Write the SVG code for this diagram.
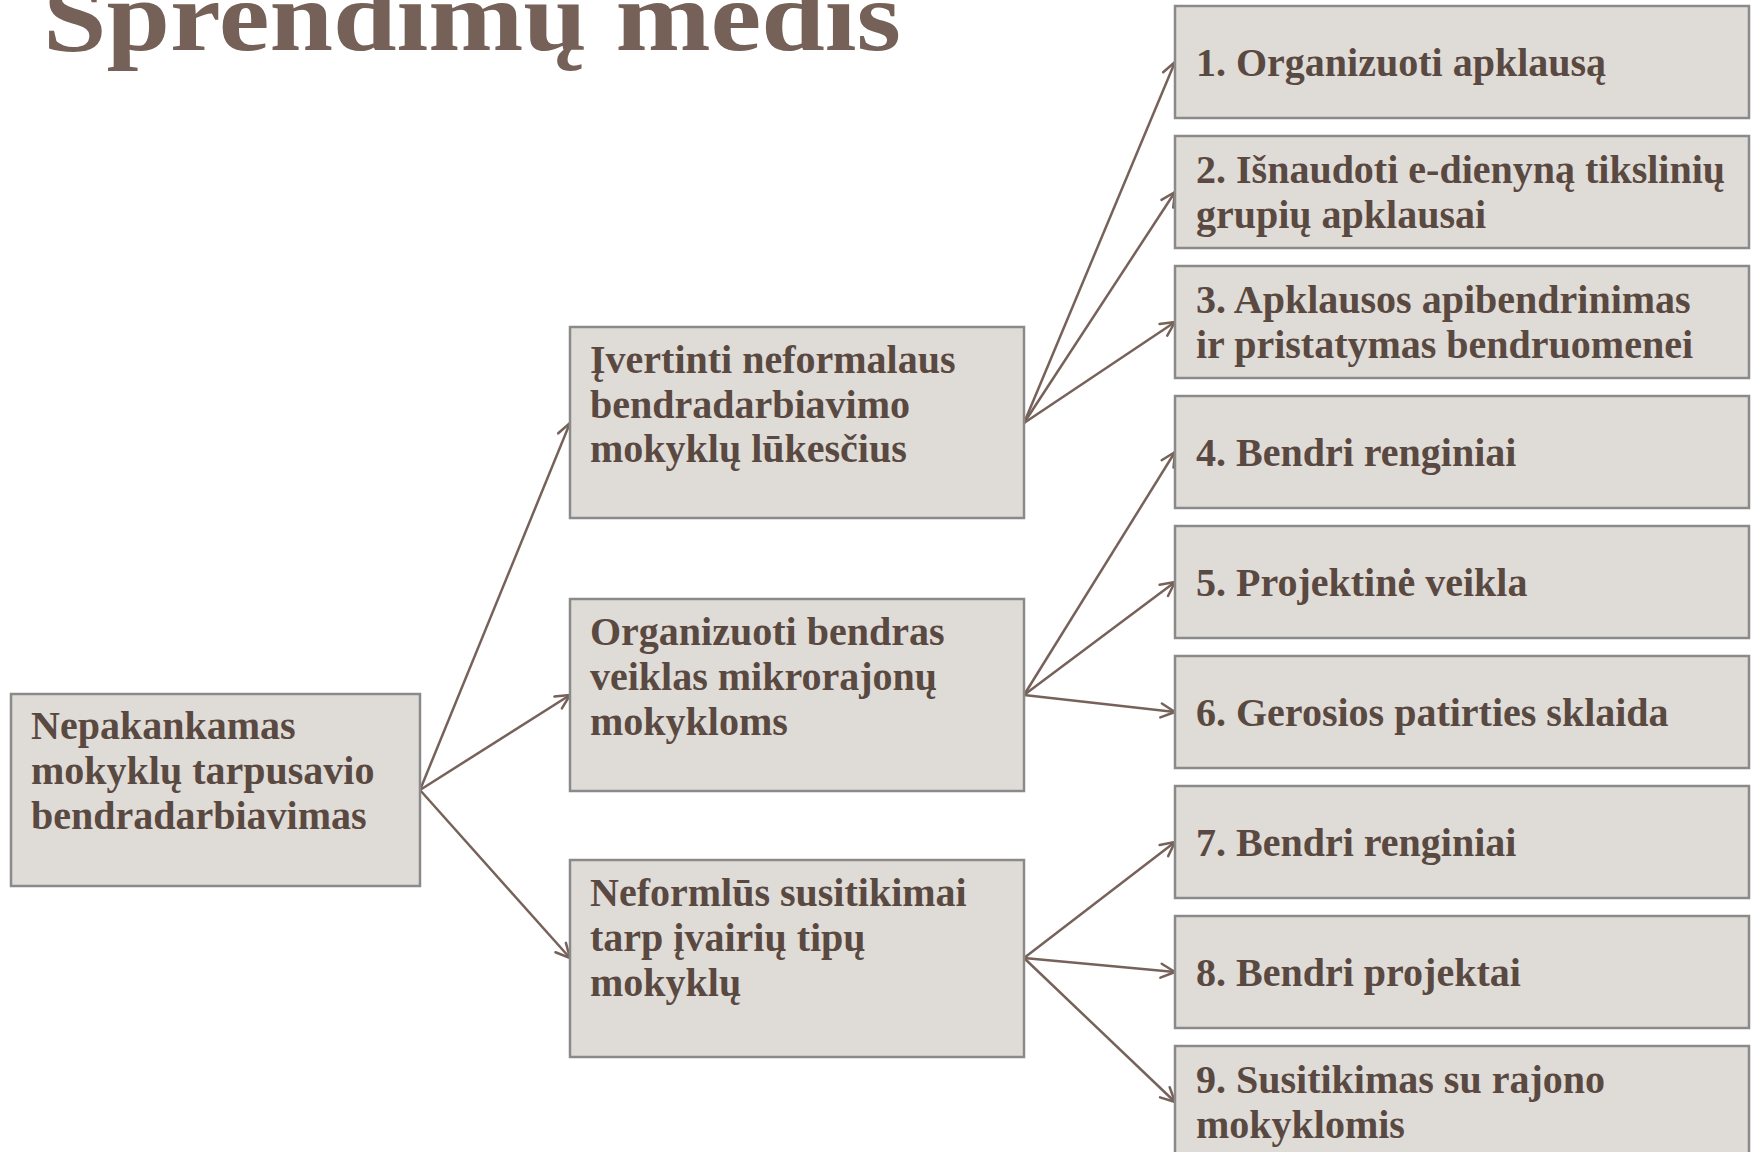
<svg xmlns="http://www.w3.org/2000/svg" width="1756" height="1152" viewBox="0 0 1756 1152">
<defs>
<style>
.box{fill:#dfdbd7;stroke:#8a8a8a;stroke-width:2.5}
.t{font-family:"Liberation Serif","DejaVu Serif",serif;font-weight:bold;font-size:40px;fill:#594941}
.title{font-family:"Liberation Serif","DejaVu Serif",serif;font-weight:bold;font-size:100px;fill:#756157}
.c{stroke:#76625a;stroke-width:2.5;fill:none;marker-end:url(#ah)}
</style>
<marker id="ah" markerUnits="userSpaceOnUse" markerWidth="20" markerHeight="20" viewBox="0 0 20 20" refX="18" refY="10" orient="auto">
<path d="M4,3 L18,10 L4,17" fill="none" stroke="#76625a" stroke-width="2.5" stroke-linecap="round" stroke-linejoin="round"/>
</marker>
</defs>
<rect width="1756" height="1152" fill="#ffffff"/>
<text class="title" x="43" y="50" textLength="858" lengthAdjust="spacingAndGlyphs">Sprendimų medis</text>
<g id="connectors">
<line class="c" x1="420" y1="790" x2="570" y2="423"/>
<line class="c" x1="420" y1="790" x2="570" y2="695"/>
<line class="c" x1="420" y1="790" x2="570" y2="958"/>
<line class="c" x1="1024" y1="423" x2="1175" y2="62"/>
<line class="c" x1="1024" y1="423" x2="1175" y2="192"/>
<line class="c" x1="1024" y1="423" x2="1175" y2="322"/>
<line class="c" x1="1024" y1="695" x2="1175" y2="452"/>
<line class="c" x1="1024" y1="695" x2="1175" y2="582"/>
<line class="c" x1="1024" y1="695" x2="1175" y2="712"/>
<line class="c" x1="1024" y1="958" x2="1175" y2="842"/>
<line class="c" x1="1024" y1="958" x2="1175" y2="972"/>
<line class="c" x1="1024" y1="958" x2="1175" y2="1102"/>
</g>
<g id="root">
<rect class="box" x="11" y="694" width="409" height="192"/>
<text class="t" x="31" y="739">Nepakankamas</text>
<text class="t" x="31" y="784">mokyklų tarpusavio</text>
<text class="t" x="31" y="829">bendradarbiavimas</text>
</g>
<g id="m1">
<rect class="box" x="570" y="327" width="454" height="191"/>
<text class="t" x="590" y="373">Įvertinti neformalaus</text>
<text class="t" x="590" y="418">bendradarbiavimo</text>
<text class="t" x="590" y="462">mokyklų lūkesčius</text>
</g>
<g id="m2">
<rect class="box" x="570" y="599" width="454" height="192"/>
<text class="t" x="590" y="645">Organizuoti bendras</text>
<text class="t" x="590" y="690">veiklas mikrorajonų</text>
<text class="t" x="590" y="735">mokykloms</text>
</g>
<g id="m3">
<rect class="box" x="570" y="860" width="454" height="197"/>
<text class="t" x="590" y="906">Neformlūs susitikimai</text>
<text class="t" x="590" y="951">tarp įvairių tipų</text>
<text class="t" x="590" y="996">mokyklų</text>
</g>
<g id="r1">
<rect class="box" x="1175" y="6" width="574" height="112"/>
<text class="t" x="1196" y="76">1. Organizuoti apklausą</text>
</g>
<g id="r2">
<rect class="box" x="1175" y="136" width="574" height="112"/>
<text class="t" x="1196" y="183">2. Išnaudoti e-dienyną tikslinių</text>
<text class="t" x="1196" y="228">grupių apklausai</text>
</g>
<g id="r3">
<rect class="box" x="1175" y="266" width="574" height="112"/>
<text class="t" x="1196" y="313">3. Apklausos apibendrinimas</text>
<text class="t" x="1196" y="358">ir pristatymas bendruomenei</text>
</g>
<g id="r4">
<rect class="box" x="1175" y="396" width="574" height="112"/>
<text class="t" x="1196" y="466">4. Bendri renginiai</text>
</g>
<g id="r5">
<rect class="box" x="1175" y="526" width="574" height="112"/>
<text class="t" x="1196" y="596">5. Projektinė veikla</text>
</g>
<g id="r6">
<rect class="box" x="1175" y="656" width="574" height="112"/>
<text class="t" x="1196" y="726">6. Gerosios patirties sklaida</text>
</g>
<g id="r7">
<rect class="box" x="1175" y="786" width="574" height="112"/>
<text class="t" x="1196" y="856">7. Bendri renginiai</text>
</g>
<g id="r8">
<rect class="box" x="1175" y="916" width="574" height="112"/>
<text class="t" x="1196" y="986">8. Bendri projektai</text>
</g>
<g id="r9">
<rect class="box" x="1175" y="1046" width="574" height="112"/>
<text class="t" x="1196" y="1093">9. Susitikimas su rajono</text>
<text class="t" x="1196" y="1138">mokyklomis</text>
</g>
</svg>
